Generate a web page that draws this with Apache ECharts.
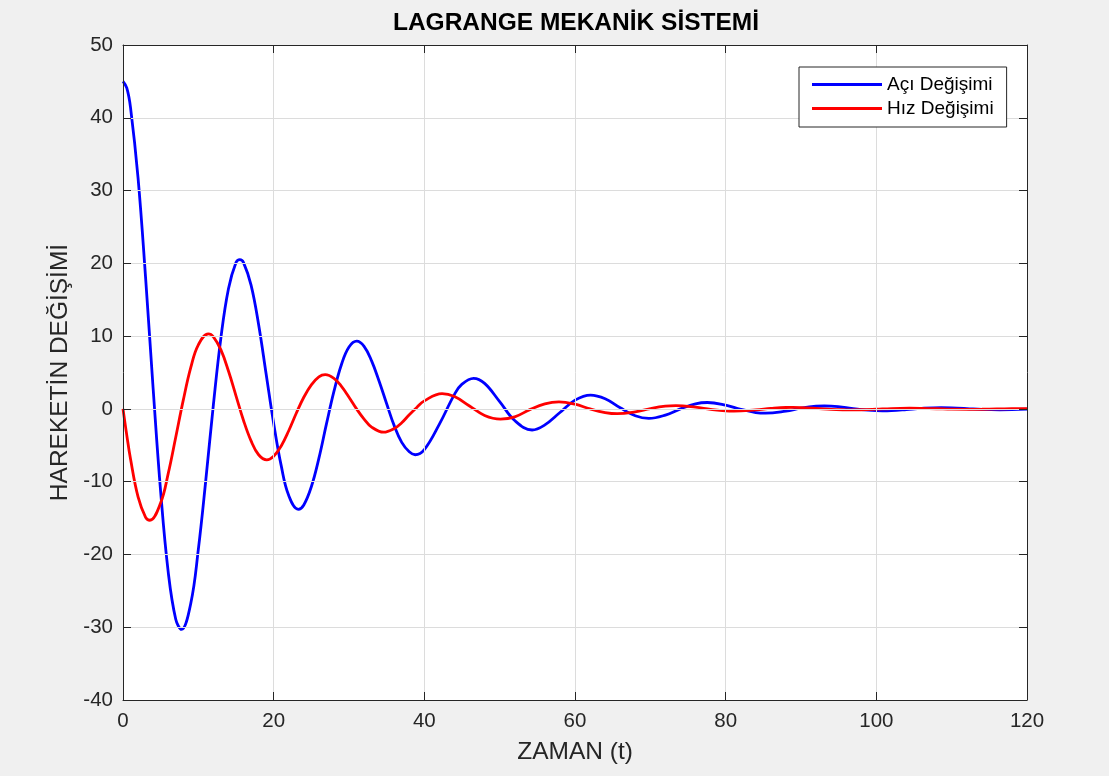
<!DOCTYPE html>
<html>
<head>
<meta charset="utf-8">
<title>LAGRANGE MEKANİK SİSTEMİ</title>
<script src="https://cdn.jsdelivr.net/npm/echarts@6/dist/echarts.min.js"></script>
<style>
	html, body { margin: 0; padding: 0; background: #f0f0f0; }
	#chart { width: 1109px; height: 776px; }
</style>
</head>
<body>
<div id="chart"></div>
<script>
// Açı Değişimi : zaman / değer
const aciT = [0, 0.5, 1, 2, 3, 4, 5, 6, 7, 7.76, 9, 10, 11, 12, 13, 14, 15, 15.51, 16, 17, 18, 19, 20,
	21, 22, 23.27, 24, 25, 26, 27, 28, 29, 30, 31.03, 32, 33, 34, 35, 36, 37, 38, 38.79, 40,
	42, 44, 45, 46.54, 48, 50, 52, 54.3, 56, 58, 60, 62.06, 64, 66, 68, 69.8, 72, 74, 76, 77.57, 80,
	82, 84, 85.3, 88, 90, 92, 93.1, 94, 96, 98, 100, 100.8, 102, 104, 106, 108.6, 110, 112, 114, 116.4, 118, 120]
const aci = [45, 44.1, 41.4, 31.7, 18.0, 2.8, -11.4, -22.4, -28.9, -30.3, -26.7, -19.3, -9.7, 0.6, 9.8, 16.5, 20.1, 20.5, 20.1, 17.0, 11.6, 4.8, -2.0,
	-7.8, -11.9, -13.8, -13.2, -10.7, -6.8, -2.1, 2.4, 6.1, 8.5, 9.3, 8.6, 6.6, 3.8, 0.7, -2.3, -4.6, -5.9, -6.3, -5.6,
	-2.1, 2.0, 3.4, 4.2, 3.5, 1.0, -1.6, -2.9, -2.2, -0.5, 1.2, 1.9, 1.4, 0.15, -0.94, -1.3, -0.85, 0.0, 0.7, 0.88, 0.51,
	-0.07, -0.5, -0.59, -0.3, 0.09, 0.36, 0.40, 0.37, 0.17, -0.09, -0.25, -0.27, -0.24, -0.09, 0.08, 0.18, 0.15, 0.05, -0.07, -0.12, -0.10, -0.02]

// Hız Değişimi : zaman / değer
const hizT = [0, 0.5, 1, 2, 3, 3.57, 5, 6, 7, 8, 9, 10, 11.33, 12, 13, 14, 15, 16, 17, 18, 19.09, 20,
	21, 22, 23, 24, 25, 26, 26.84, 28, 29, 30, 31, 32, 33, 34.6, 36, 37, 38, 39, 40,
	42.36, 44, 46, 48, 50.11, 52, 54, 56, 57.87, 60, 62, 64, 65.6, 68, 70, 72, 73.4, 76, 78, 80,
	81.1, 84, 86, 88, 88.9, 90, 92, 94, 96, 96.7, 98, 100, 102, 104.4, 106, 108, 110, 112.2, 114, 116, 118, 120]
const hiz = [0, -3.6, -6.9, -12.1, -14.9, -15.3, -12.9, -8.9, -3.9, 1.2, 5.7, 8.8, 10.3, 9.9, 8.1, 5.2, 1.8, -1.6, -4.4, -6.3, -7.0, -6.5,
	-5.1, -3.0, -0.6, 1.6, 3.3, 4.4, 4.7, 4.2, 3.1, 1.6, 0.0, -1.4, -2.5, -3.2, -2.7, -1.9, -0.8, 0.2, 1.1,
	2.1, 1.7, 0.4, -0.9, -1.4, -1.1, -0.1, 0.7, 0.97, 0.65, 0.0, -0.5, -0.66, -0.4, 0.04, 0.37, 0.44, 0.23, -0.06, -0.27,
	-0.30, -0.13, 0.06, 0.19, 0.20, 0.18, 0.07, -0.06, -0.13, -0.14, -0.12, -0.04, 0.05, 0.09, 0.07, 0.02, -0.04, -0.06, -0.05, -0.01, 0.03, 0.04]

const xTicks = [0, 120, 20]
const yTicks = [-40, 50, 10]

const aciData = aciT.map((t, i) => [t, aci[i]])
const hizData = hizT.map((t, i) => [t, hiz[i]])

const font = 'Liberation Sans, Arial, Helvetica, sans-serif'
const dark = '#262626'

var myChart = echarts.init(document.getElementById('chart'))

var option = {
	backgroundColor: '#f0f0f0',
	animation: false,
	title: {
		text: 'LAGRANGE MEKANİK SİSTEMİ',
		left: 576,
		top: 11,
		padding: 0,
		textAlign: 'center',
		textStyle: { color: '#000', fontSize: 24.5, fontWeight: 'bold', fontFamily: font }
	},
	legend: {
		orient: 'vertical',
		left: 799,
		top: 67,
		z: 20,
		padding: [8, 13, 9, 13],
		itemGap: 5,
		itemWidth: 70,
		itemHeight: 3,
		icon: 'rect',
		backgroundColor: '#fff',
		borderColor: dark,
		borderWidth: 1,
		borderRadius: 0,
		textStyle: { color: '#000', fontSize: 19, fontFamily: font },
		data: ['Açı Değişimi', 'Hız Değişimi']
	},
	grid: {
		left: 123,
		right: 82,
		top: 45,
		bottom: 76,
		show: true,
		backgroundColor: '#fff',
		borderWidth: 0
	},
	xAxis: [{
		type: 'value',
		position: 'bottom',
		min: xTicks[0],
		max: xTicks[1],
		interval: xTicks[2],
		name: 'ZAMAN (t)',
		nameLocation: 'middle',
		nameGap: 40,
		nameTextStyle: { color: dark, fontSize: 24.5, fontFamily: font },
		axisLine: { onZero: false, lineStyle: { color: dark, width: 1 } },
		axisTick: { inside: true, length: 8, lineStyle: { color: dark } },
		axisLabel: { color: dark, fontSize: 20.5, fontFamily: font, margin: 11 },
		splitLine: { show: true, lineStyle: { color: '#dcdcdc', width: 1 } },
		z: 5
	}, {
		type: 'value',
		position: 'top',
		min: xTicks[0],
		max: xTicks[1],
		interval: xTicks[2],
		axisLine: { onZero: false, lineStyle: { color: dark, width: 1 } },
		axisTick: { inside: true, length: 8, lineStyle: { color: dark } },
		axisLabel: { show: false },
		splitLine: { show: false },
		z: 5
	}],
	yAxis: [{
		type: 'value',
		position: 'left',
		min: yTicks[0],
		max: yTicks[1],
		interval: yTicks[2],
		name: 'HAREKETİN DEĞİŞİMİ',
		nameLocation: 'middle',
		nameGap: 50,
		nameTextStyle: { color: dark, fontSize: 24.5, fontFamily: font },
		axisLine: { show: true, onZero: false, lineStyle: { color: dark, width: 1 } },
		axisTick: { show: true, inside: true, length: 8, lineStyle: { color: dark } },
		axisLabel: { color: dark, fontSize: 20.5, fontFamily: font, margin: 10 },
		splitLine: { show: true, lineStyle: { color: '#dcdcdc', width: 1 } },
		z: 5
	}, {
		type: 'value',
		position: 'right',
		min: yTicks[0],
		max: yTicks[1],
		interval: yTicks[2],
		axisLine: { show: true, onZero: false, lineStyle: { color: dark, width: 1 } },
		axisTick: { show: true, inside: true, length: 8, lineStyle: { color: dark } },
		axisLabel: { show: false },
		splitLine: { show: false },
		z: 5
	}],
	series: [{
		name: 'Açı Değişimi',
		type: 'line',
		data: aciData,
		smooth: 0.4,
		showSymbol: false,
		color: '#0000ff',
		lineStyle: { color: '#0000ff', width: 2.8 }
	}, {
		name: 'Hız Değişimi',
		type: 'line',
		data: hizData,
		smooth: 0.4,
		showSymbol: false,
		color: '#ff0000',
		lineStyle: { color: '#ff0000', width: 2.8 }
	}]
}

myChart.setOption(option)
</script>
</body>
</html>
